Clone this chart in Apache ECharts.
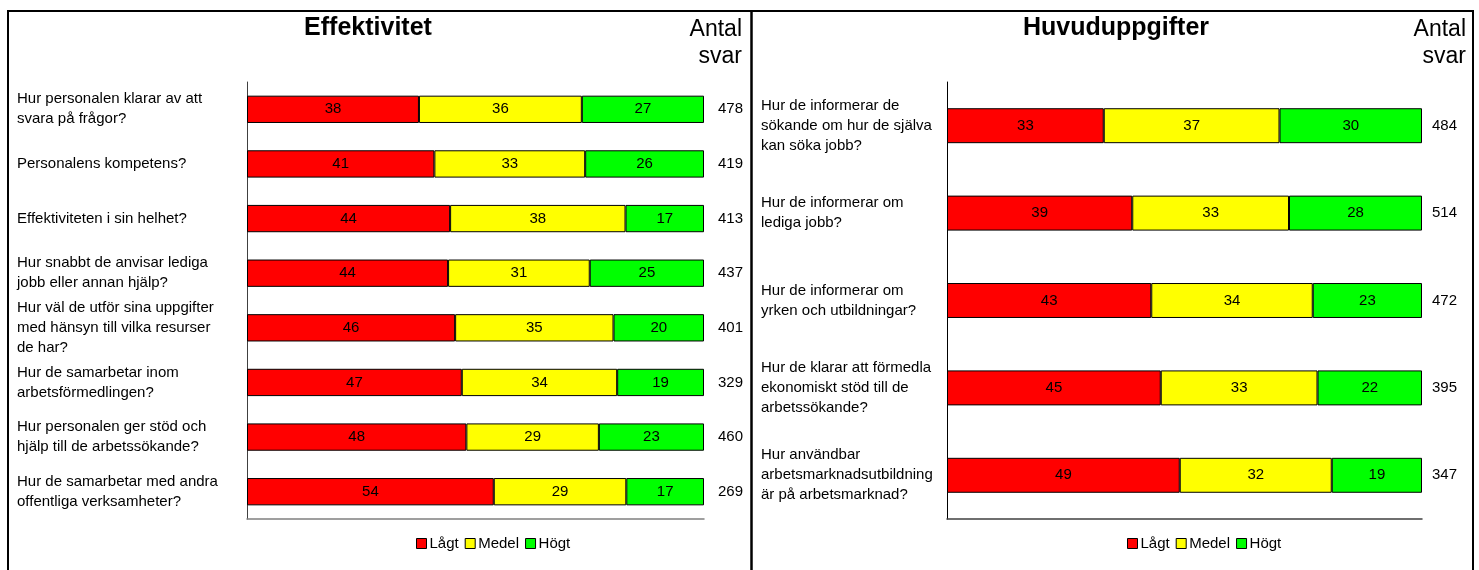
<!DOCTYPE html>
<html>
<head>
<meta charset="utf-8">
<script src="https://cdn.jsdelivr.net/npm/echarts@6/dist/echarts.min.js"></script>
<style>
html,body{margin:0;padding:0;background:#fff;}
#chart{width:1479px;height:570px;}
</style>
</head>
<body>
<div id="chart"></div>
<script>
// ---- Data: panel 1 (Effektivitet) ----
var catsA = [
  'Hur personalen klarar av att\nsvara på frågor?',
  'Personalens kompetens?',
  'Effektiviteten i sin helhet?',
  'Hur snabbt de anvisar lediga\njobb eller annan hjälp?',
  'Hur väl de utför sina uppgifter\nmed hänsyn till vilka resurser\nde har?',
  'Hur de samarbetar inom\narbetsförmedlingen?',
  'Hur personalen ger stöd och\nhjälp till de arbetssökande?',
  'Hur de samarbetar med andra\noffentliga verksamheter?'
];
var lowA  = [38, 41, 44, 44, 46, 47, 48, 54];
var midA  = [36, 33, 38, 31, 35, 34, 29, 29];
var highA = [27, 26, 17, 25, 20, 19, 23, 17];
var countA = ['478', '419', '413', '437', '401', '329', '460', '269'];

// ---- Data: panel 2 (Huvuduppgifter) ----
var catsB = [
  'Hur de informerar de\nsökande om hur de själva\nkan söka jobb?',
  'Hur de informerar om\nlediga jobb?',
  'Hur de informerar om\nyrken och utbildningar?',
  'Hur de klarar att förmedla\nekonomiskt stöd till de\narbetssökande?',
  'Hur användbar\narbetsmarknadsutbildning\när på arbetsmarknad?'
];
var lowB  = [33, 39, 43, 45, 49];
var midB  = [37, 33, 34, 33, 32];
var highB = [30, 28, 23, 22, 19];
var countB = ['484', '514', '472', '395', '347'];

var seriesNames = ['Lågt', 'Medel', 'Högt'];
var colors = ['#FF0000', '#FFFF00', '#00FF00'];

var FONT = '"Liberation Sans", Arial, sans-serif';

// Each row is drawn as 100% (rounded percentages), labels show the given values.
function norm(arrs, k) {
  return arrs[k].map(function (v, i) {
    var s = arrs[0][i] + arrs[1][i] + arrs[2][i];
    return v / s * 100;
  });
}

function makeSeries(arrs, xi, yi, stack) {
  return arrs.map(function (raw, k) {
    return {
      name: seriesNames[k],
      type: 'bar',
      stack: stack,
      xAxisIndex: xi,
      yAxisIndex: yi,
      data: norm(arrs, k),
      barCategoryGap: xi === 0 ? '50%' : '60%',
      itemStyle: { color: colors[k], borderColor: '#000', borderWidth: 1 },
      label: {
        show: true, position: 'inside', color: '#000',
        fontFamily: FONT, fontSize: 15,
        formatter: function (p) { return raw[p.dataIndex]; }
      },
      emphasis: { disabled: true },
      animation: false
    };
  });
}

var chart = echarts.init(document.getElementById('chart'), null, { renderer: 'canvas' });

var xAxisCommon = {
  type: 'value', min: 0, max: 100,
  axisLabel: { show: false }, axisTick: { show: false },
  splitLine: { show: false }
};

var legendCommon = {
  data: seriesNames, top: 531, itemWidth: 10, itemHeight: 10, itemGap: 6,
  icon: 'rect',
  selectedMode: false,
  itemStyle: { borderColor: '#000', borderWidth: 1 },
  textStyle: { color: '#000', fontFamily: FONT, fontSize: 15, padding: [0, 0, 0, -2] }
};

var option = {
  backgroundColor: '#fff',
  animation: false,
  textStyle: { fontFamily: FONT },
  grid: [
    { left: 247, right: 1479 - 704, top: 82, bottom: 570 - 519 },
    { left: 947, right: 1479 - 1422, top: 82, bottom: 570 - 519 }
  ],
  xAxis: [
    Object.assign({ gridIndex: 0, axisLine: { show: true, lineStyle: { color: '#808080', width: 1.5 } } }, xAxisCommon),
    Object.assign({ gridIndex: 1, axisLine: { show: true, lineStyle: { color: '#404040', width: 1.5 } } }, xAxisCommon)
  ],
  yAxis: [
    {
      gridIndex: 0, type: 'category', inverse: true, data: catsA,
      axisLine: { show: true, lineStyle: { color: '#404040', width: 1 } },
      axisTick: { show: false },
      axisLabel: { align: 'left', margin: 230, color: '#000', fontFamily: FONT, fontSize: 15, lineHeight: 20 }
    },
    {
      gridIndex: 0, type: 'category', inverse: true, position: 'right', data: countA,
      axisLine: { show: false }, axisTick: { show: false },
      axisLabel: { margin: 14, color: '#000', fontFamily: FONT, fontSize: 15 }
    },
    {
      gridIndex: 1, type: 'category', inverse: true, data: catsB,
      axisLine: { show: true, lineStyle: { color: '#000', width: 1 } },
      axisTick: { show: false },
      axisLabel: { align: 'left', margin: 186, color: '#000', fontFamily: FONT, fontSize: 15, lineHeight: 20 }
    },
    {
      gridIndex: 1, type: 'category', inverse: true, position: 'right', data: countB,
      axisLine: { show: false }, axisTick: { show: false },
      axisLabel: { margin: 10, color: '#000', fontFamily: FONT, fontSize: 15 }
    }
  ],
  legend: [
    Object.assign({ left: 411 }, legendCommon),
    Object.assign({ left: 1122 }, legendCommon)
  ],
  graphic: [
    { type: 'rect', silent: true, shape: { x: 8, y: 11, width: 1465, height: 620 },
      style: { fill: 'none', stroke: '#000', lineWidth: 2 } },
    { type: 'line', silent: true, shape: { x1: 751.5, y1: 11, x2: 751.5, y2: 580 },
      style: { stroke: '#000', lineWidth: 2.5 } },
    { type: 'text', silent: true, x: 368, y: 28,
      style: { text: 'Effektivitet', fontFamily: FONT, fontWeight: 'bold', fontSize: 25, fill: '#000', align: 'center', verticalAlign: 'middle' } },
    { type: 'text', silent: true, x: 742, y: 30,
      style: { text: 'Antal', fontFamily: FONT, fontSize: 23, fill: '#000', align: 'right', verticalAlign: 'middle' } },
    { type: 'text', silent: true, x: 742, y: 57,
      style: { text: 'svar', fontFamily: FONT, fontSize: 23, fill: '#000', align: 'right', verticalAlign: 'middle' } },
    { type: 'text', silent: true, x: 1116, y: 28,
      style: { text: 'Huvuduppgifter', fontFamily: FONT, fontWeight: 'bold', fontSize: 25, fill: '#000', align: 'center', verticalAlign: 'middle' } },
    { type: 'text', silent: true, x: 1466, y: 30,
      style: { text: 'Antal', fontFamily: FONT, fontSize: 23, fill: '#000', align: 'right', verticalAlign: 'middle' } },
    { type: 'text', silent: true, x: 1466, y: 57,
      style: { text: 'svar', fontFamily: FONT, fontSize: 23, fill: '#000', align: 'right', verticalAlign: 'middle' } }
  ],
  series: [].concat(
    makeSeries([lowA, midA, highA], 0, 0, 'A'),
    makeSeries([lowB, midB, highB], 1, 2, 'B')
  )
};

chart.setOption(option);
</script>
</body>
</html>
